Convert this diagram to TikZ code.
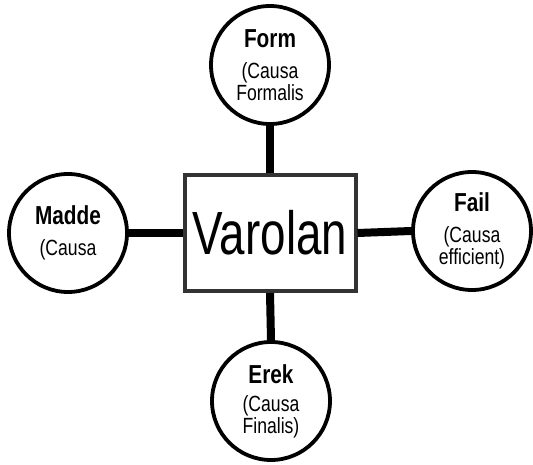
\documentclass[tikz,border=0pt]{standalone}
\usepackage{fontspec}
\setmainfont{Liberation Sans}
\newfontfamily\narrowsf[FakeStretch=0.8]{Liberation Sans}
\newfontfamily\widesf[FakeStretch=0.75]{Liberation Sans}
\newcommand{\causename}[1]{{\bfseries\fontsize{26}{26}\selectfont #1}}
\begin{document}
\begin{tikzpicture}[x = 1pt, y = -1pt,
	cause/.style = {draw, circle, line width = 3.8pt, minimum size = 118pt, inner sep = 0pt,
		align = center, font = \narrowsf\fontsize{22}{22}\selectfont},
	link/.style = {line width = 8pt}]
	\useasboundingbox (0,0) rectangle (533,465);
	\node[draw = black!80, line width = 4pt, minimum width = 171pt, minimum height = 116pt,
		inner sep = 0pt, font = \widesf\fontsize{61}{61}\selectfont] (varolan) at (270,233) {Varolan};
	\node[cause] (form) at (270,65) {\causename{Form}\\[9pt](Causa\\Formalis};
	\node[cause] (madde) at (68,233) {\causename{Madde}\\[9pt](Causa};
	\node[cause] (fail) at (472,231) {\causename{Fail}\\[9pt](Causa\\efficient)};
	\node[cause] (erek) at (271,401) {\causename{Erek}\\[6pt](Causa\\Finalis)};
	\draw[link] (varolan.north) -- (form.south);
	\draw[link] (varolan.west) -- (madde.east);
	\draw[link] (varolan.east) -- (fail.west);
	\draw[link] (varolan.south) -- (erek.north);
\end{tikzpicture}
\end{document}
